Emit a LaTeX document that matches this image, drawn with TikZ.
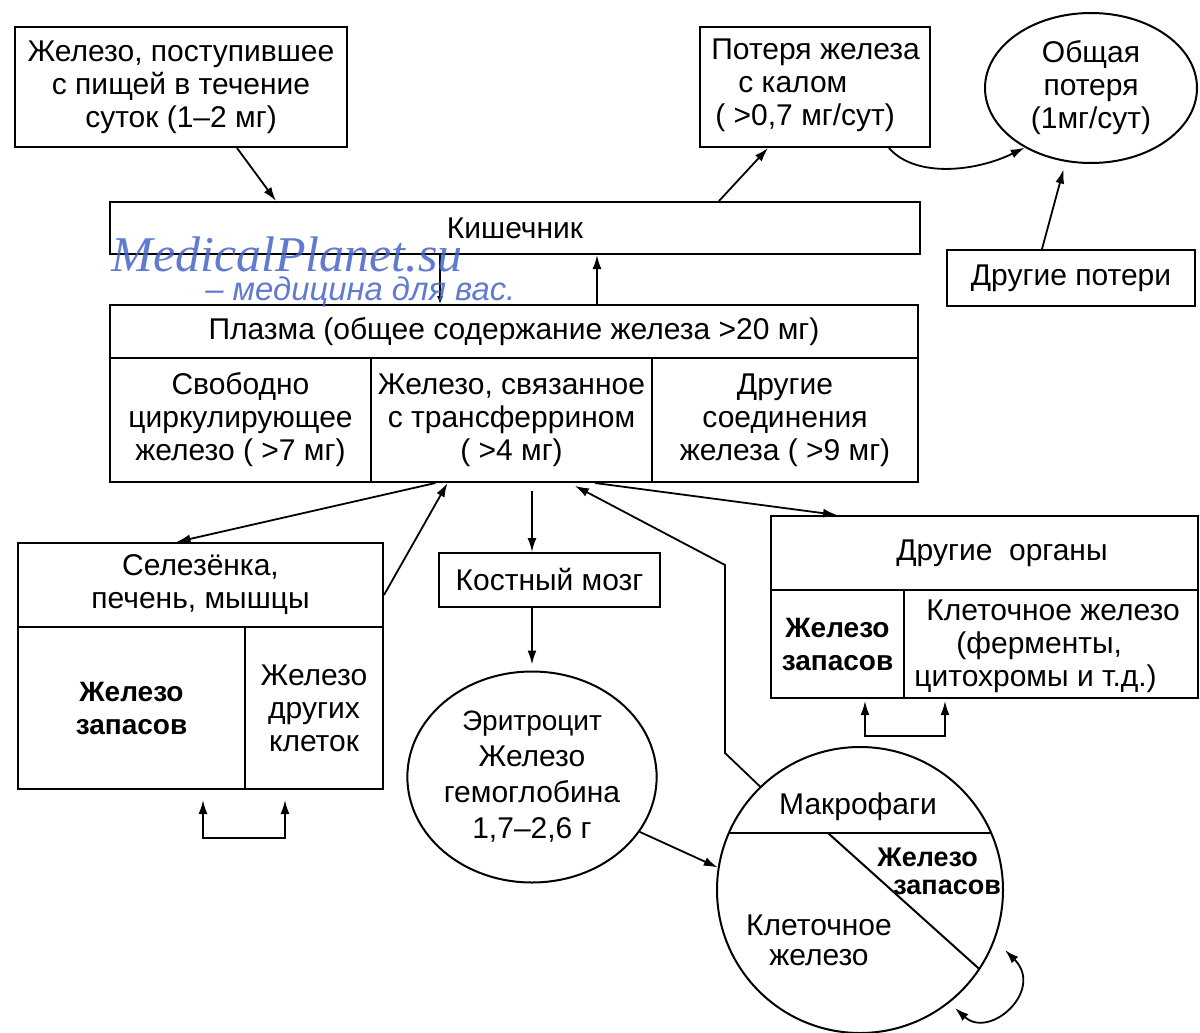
\documentclass[tikz,border=0pt]{standalone}
\usepackage{fontspec}
\setmainfont{Liberation Sans}
\newfontfamily\wmserif{Liberation Serif}
\usetikzlibrary{shapes.geometric,arrows.meta}
\definecolor{wm}{RGB}{70,100,200}
\begin{document}
\begin{tikzpicture}[x=0.5pt,y=-0.5pt,
  every node/.style={font=\fontsize{15}{16.5}\selectfont},
  box/.style={draw,line width=1pt,rectangle,inner sep=0pt,align=center},
  oval/.style={draw,ellipse,line width=1pt,inner sep=0pt,align=center},
  lbl/.style={inner sep=0pt,align=center},
  bold/.style={font=\fontsize{14}{16.5}\selectfont\bfseries},
  arr/.style={line width=0.9pt,-{Latex[length=7pt,width=4.5pt]}},
  tarr/.style={line width=0.6pt,-{Latex[length=4pt,width=3pt]}},
  dbl/.style={line width=0.9pt,{Latex[length=7pt,width=4.5pt]}-{Latex[length=7pt,width=4.5pt]}},
  ]
\useasboundingbox (0,0) rectangle (1200,1033);
\fill[white] (0,0) rectangle (1200,1033);

% top row
\node[box,minimum width=166pt,minimum height=60pt] (food) at (181,87) {Железо, поступившее\\с пищей в течение\\суток (1–2 мг)};
\node[box,minimum width=115pt,minimum height=60pt] (loss) at (815,87) {};
\node[lbl,anchor=west,align=left] (lossT) at (711,85) {Потеря железа\\\hspace*{13.5pt}с калом\\\hspace*{2pt}( >0,7 мг/сут)};
\node[oval,minimum width=106pt,minimum height=75pt] (total) at (1091,88) {Общая\\потеря\\(1мг/сут)};

% gut and plasma
\node[box,minimum width=405pt,minimum height=26pt] (gut) at (515,228) {Кишечник};
\node[box,minimum width=124pt,minimum height=28pt] (oloss) at (1071,278) {Другие потери};
\node[box,minimum width=404pt,minimum height=26.5pt] (plasma) at (514,331.5) {Плазма (общее содержание железа >20 мг)};
\node[box,minimum width=130.5pt,minimum height=62pt] (free) at (240.5,420) {Свободно\\циркулирующее\\железо ( >7 мг)};
\node[box,minimum width=140.5pt,minimum height=62pt] (trans) at (511.5,420) {Железо, связанное\\с трансферрином\\( >4 мг)};
\node[box,minimum width=133pt,minimum height=62pt] (ocomp) at (785,420) {Другие\\соединения\\железа ( >9 мг)};

% spleen
\node[box,minimum width=182.5pt,minimum height=42pt] (spl) at (200.5,585) {Селезёнка,\\печень, мышцы};
\node[box,bold,minimum width=113.5pt,minimum height=81pt] (sstore) at (131.5,708) {Железо\\запасов};
\node[box,minimum width=69pt,minimum height=81pt] (sother) at (314,708) {Железо\\других\\клеток};

% marrow, erythrocyte
\node[box,minimum width=110.5pt,minimum height=27pt] (marrow) at (549.5,580) {Костный мозг};
\node[oval,minimum width=106.5pt,minimum height=105.5pt,font=\fontsize{15}{18}\selectfont] (ery) at (532,777) {{\fontsize{14}{18}\selectfont Эритроцит}\\Железо\\гемоглобина\\1,7–2,6 г};

% other organs
\node[box,minimum width=213.5pt,minimum height=37pt] (oorg) at (984.5,553) {};
\node[lbl] (oorgT) at (1002,553) {Другие\ \ органы};
\node[box,bold,minimum width=66.5pt,minimum height=54pt] (ostore) at (837.5,644) {Железо\\запасов};
\node[box,minimum width=147pt,minimum height=54pt] (ocell) at (1051,644) {};
\node[lbl,anchor=west,align=left] (ocellT) at (914,646) {\hspace*{6pt}Клеточное железо\\\hspace*{21pt}(ферменты,\\цитохромы и т.д.)};

% macrophage
\node[draw,circle,line width=1pt,inner sep=0pt,minimum size=143pt] (mac) at (860,890) {};
\begin{scope}
  \clip (860,890) circle [radius=71.5pt];
  \draw[line width=1pt] (700,833) -- (1020,833);
  \draw[line width=1pt] (828,833) -- (1010,996.6);
\end{scope}
\node[lbl] (macT) at (858,807) {Макрофаги};
\node[lbl,anchor=west,align=left,font=\fontsize{13.5}{14}\selectfont\bfseries] (macS) at (877,871) {Железо\\\hspace*{8pt}запасов};
\node[lbl,font=\fontsize{15}{15}\selectfont] (macC) at (819,940) {Клеточное\\железо};

% connectors
\draw[arr] ([xshift=28pt]food.south) -- ([xshift=-119.5pt]gut.north);
\draw[arr] ([xshift=102pt]gut.north) -- ([xshift=-23.5pt]loss.south);
\draw[arr] ([xshift=37pt]loss.south) .. controls (915,178) and (975,172) .. (total.222);
\draw[arr,shorten >=4pt] ([xshift=-14.5pt]oloss.north) -- (total.251);
\draw[tarr] ([xshift=-37.5pt]gut.south) -- ([xshift=-37pt]plasma.north);
\draw[arr] ([xshift=41.5pt]plasma.north) -- ([xshift=41pt]gut.south);
\draw[arr] ([xshift=-38pt]trans.south) -- ([xshift=-12pt]spl.north);
\draw[arr] ([yshift=-5pt]spl.east) -- ([xshift=-32pt]trans.south);
\draw[arr,shorten <=4pt] ([xshift=10.25pt]trans.south) -- ([xshift=-8.75pt]marrow.north);
\draw[arr,shorten >=3pt] ([xshift=-8.75pt]marrow.south) -- (ery.north);
\draw[arr] (ery.-27) -- (mac.171);
\coordinate (m1) at (725,753);
\coordinate (m2) at (725,565);
\draw[arr,shorten >=3pt] (mac.134) -- (m1) -- (m2) -- ([xshift=29pt]trans.south);
\draw[arr] ([xshift=41.75pt]trans.south) -- ([xshift=-73.75pt]oorg.north);
\draw[dbl,shorten <=5pt,shorten >=5pt] ([xshift=35.75pt]sstore.south) -- ++(0,48) -| ([xshift=-14.5pt]sother.south);
\draw[dbl,shorten <=1pt,shorten >=1pt] ([xshift=13.75pt]ostore.south) -- ++(0,37) -| ([xshift=-53pt]ocell.south);
\coordinate (lpA) at (955,1008);
\coordinate (lpB) at (1005,950);
\draw[dbl] (lpA) .. controls (990,1040) and (1045,990) .. (lpB);

% watermark
\node[anchor=base west,inner sep=0pt,text=wm,opacity=0.85,font=\wmserif\itshape\fontsize{25}{25}\selectfont] (wm1) at (111,271) {MedicalPlanet.su};
\node[anchor=base west,inner sep=0pt,text=wm,opacity=0.85,font=\itshape\fontsize{16.4}{16.4}\selectfont] (wm2) at (205,300) {– медицина для вас.};
\end{tikzpicture}
\end{document}
